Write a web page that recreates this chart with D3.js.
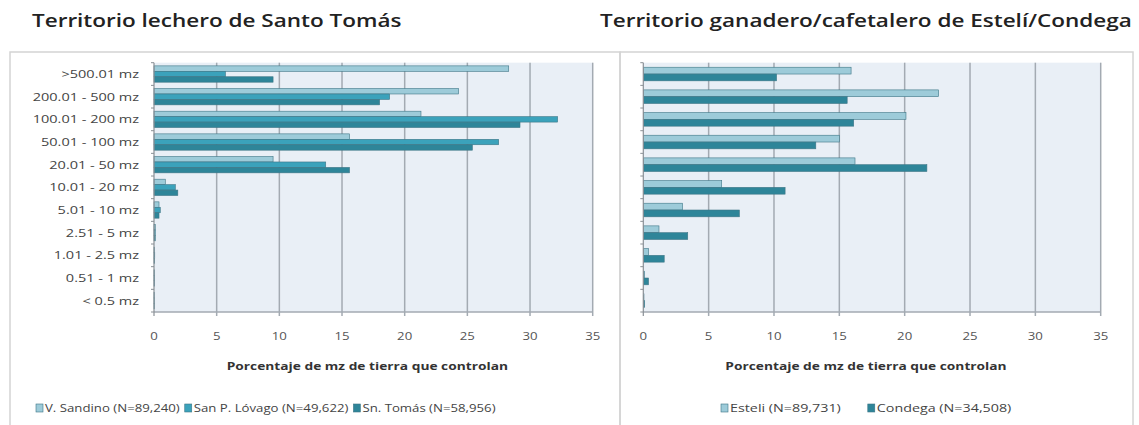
<!DOCTYPE html>
<html>
<head>
<meta charset="utf-8">
<script src="https://cdn.jsdelivr.net/npm/d3@7"></script>
<style>
  body { margin: 0; background: #fff; }
  svg { font-family: 'Open Sans', sans-serif; }
</style>
</head>
<body>
<svg id="chart" width="1139" height="425"></svg>
<script>
const categories = ['>500.01 mz', '200.01 - 500 mz', '100.01 - 200 mz', '50.01 - 100 mz', '20.01 - 50 mz',
  '10.01 - 20 mz', '5.01 - 10 mz', '2.51 - 5 mz', '1.01 - 2.5 mz', '0.51 - 1 mz', '< 0.5 mz']
const xTicks = [0, 5, 10, 15, 20, 25, 30, 35]

// Santo Tomás
const sandino = [28.3, 24.3, 21.3, 15.6, 9.5, 0.9, 0.4, 0.1, 0.05, 0.03, 0.02]
const lovago = [5.7, 18.8, 32.2, 27.5, 13.7, 1.7, 0.5, 0.1, 0.06, 0.03, 0.02]
const sntomas = [9.5, 18.0, 29.2, 25.4, 15.6, 1.9, 0.4, 0.1, 0.05, 0.03, 0.02]

// Estelí / Condega
const esteli = [15.9, 22.6, 20.1, 15.0, 16.2, 6.0, 3.0, 1.2, 0.4, 0.1, 0.05]
const condega = [10.2, 15.6, 16.1, 13.2, 21.7, 10.85, 7.35, 3.4, 1.6, 0.4, 0.1]

const svg = d3.select('#chart')

const colors = { light: '#9dcbd9', mid: '#3ba2bb', dark: '#2e8599' }

// the source picture is stretched sideways, so widen the text glyphs
const stretch = (sel, k) => sel.each(function () {
  const len = this.getComputedTextLength()
  d3.select(this).attr('textLength', len * k).attr('lengthAdjust', 'spacingAndGlyphs')
})

// panel frames
svg.append('rect').attr('x', 10).attr('y', 52).attr('width', 610).attr('height', 380)
  .attr('fill', 'none').attr('stroke', '#d4d4d4').attr('stroke-width', 1.5)
svg.append('rect').attr('x', 620).attr('y', 52).attr('width', 513).attr('height', 380)
  .attr('fill', 'none').attr('stroke', '#d4d4d4').attr('stroke-width', 1.5)

svg.append('text').attr('x', 32).attr('y', 27).attr('font-size', 18).attr('font-weight', 600)
  .attr('fill', '#222').text('Territorio lechero de Santo Tomás').call(stretch, 1.25)
svg.append('text').attr('x', 600).attr('y', 27).attr('font-size', 18).attr('font-weight', 600)
  .attr('fill', '#222').text('Territorio ganadero/cafetalero de Estelí/Condega').call(stretch, 1.25)

const plotTop = 62.7, plotBottom = 312

const drawPanel = (opt) => {
  const x = d3.scaleLinear().domain([0, 35]).range([opt.left, opt.right])
  const y = d3.scaleBand().domain(categories).range([plotTop, plotBottom]).paddingInner(opt.pad).paddingOuter(opt.pad / 2)
  const sub = d3.scaleBand().domain(opt.series.map((s, i) => i)).range([0, y.bandwidth()])

  const g = svg.append('g')

  g.append('rect')
    .attr('x', x(0)).attr('y', plotTop)
    .attr('width', x(35) - x(0)).attr('height', plotBottom - plotTop)
    .attr('fill', '#e9eff6')

  // grid
  g.selectAll('.grid')
    .data(xTicks.slice(1))
    .join('line')
    .attr('x1', d => x(d)).attr('x2', d => x(d))
    .attr('y1', plotTop).attr('y2', plotBottom + 4)
    .attr('stroke', '#a3aab2').attr('stroke-width', 1.5)

  // bars
  opt.series.forEach((s, i) => {
    g.selectAll(null)
      .data(s.values)
      .join('rect')
      .attr('x', x(0))
      .attr('y', (d, j) => y(categories[j]) + sub(i))
      .attr('width', d => x(d) - x(0))
      .attr('height', sub.bandwidth())
      .attr('fill', s.color)
      .attr('stroke', '#3e7686').attr('stroke-width', 0.6)
  })

  // axis lines
  g.append('line').attr('x1', x(0)).attr('x2', x(35)).attr('y1', plotBottom).attr('y2', plotBottom)
    .attr('stroke', '#a3aab2').attr('stroke-width', 1.5)
  g.append('line').attr('x1', x(0)).attr('x2', x(0)).attr('y1', plotTop).attr('y2', plotBottom + 4)
    .attr('stroke', '#8a9096').attr('stroke-width', 1.2)
  g.selectAll('.ytick')
    .data(d3.range(categories.length + 1))
    .join('line')
    .attr('x1', x(0) - 3).attr('x2', x(0))
    .attr('y1', d => plotTop + d * (plotBottom - plotTop) / categories.length)
    .attr('y2', d => plotTop + d * (plotBottom - plotTop) / categories.length)
    .attr('stroke', '#8a9096')

  g.selectAll('.xl')
    .data(xTicks)
    .join('text')
    .attr('x', d => x(d)).attr('y', 340)
    .attr('text-anchor', 'middle').attr('font-size', 11).attr('fill', '#555')
    .text(d => d)
    .call(stretch, 1.2)

  if (opt.labels) {
    g.selectAll('.cl')
      .data(categories)
      .join('text')
      .attr('x', x(0) - 15)
      .attr('y', d => y(d) + y.bandwidth() / 2 + 4)
      .attr('text-anchor', 'end').attr('font-size', 10.5).attr('fill', '#444')
      .text(d => d)
      .call(stretch, 1.38)
  }

  g.append('text')
    .attr('x', (x(0) + x(35)) / 2 - 6).attr('y', 370)
    .attr('text-anchor', 'middle').attr('font-size', 11).attr('font-weight', 700).attr('fill', '#333')
    .text('Porcentaje de mz de tierra que controlan')
    .call(stretch, 1.25)

  // legend
  let lx = opt.legendX
  opt.series.forEach(s => {
    g.append('rect').attr('x', lx).attr('y', 404).attr('width', 7).attr('height', 8)
      .attr('fill', s.color).attr('stroke', '#3e7686').attr('stroke-width', 0.6)
    const t = g.append('text').attr('x', lx + 9).attr('y', 412)
      .attr('font-size', 11).attr('fill', '#444').text(s.name)
    const w = t.node().getComputedTextLength() * opt.legendStretch
    t.attr('textLength', w).attr('lengthAdjust', 'spacingAndGlyphs')
    lx += 9 + w + opt.legendGap
  })
}

drawPanel({
  left: 154, right: 592.7, pad: 0.28, labels: true, legendX: 36, legendGap: 5, legendStretch: 1.2,
  series: [
    { name: 'V. Sandino (N=89,240)', values: sandino, color: colors.light },
    { name: 'San P. Lóvago (N=49,622)', values: lovago, color: colors.mid },
    { name: 'Sn. Tomás (N=58,956)', values: sntomas, color: colors.dark }
  ]
})

drawPanel({
  left: 643.3, right: 1100.7, pad: 0.4, labels: false, legendX: 721, legendGap: 27, legendStretch: 1.3,
  series: [
    { name: 'Esteli (N=89,731)', values: esteli, color: colors.light },
    { name: 'Condega (N=34,508)', values: condega, color: colors.dark }
  ]
})
</script>
</body>
</html>
